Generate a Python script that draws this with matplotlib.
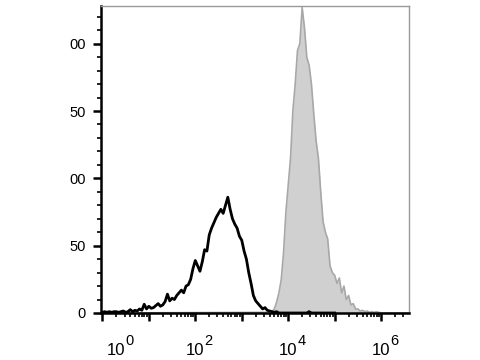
import matplotlib.pyplot as plt
import numpy as np
from matplotlib.ticker import LogLocator, MultipleLocator, NullFormatter, FixedLocator

plt.rcParams['font.family'] = ['Liberation Sans', 'DejaVu Sans']

# control (black line): log10 of channel value and event count
black_log = [0.0, 0.05, 0.1, 0.15, 0.2, 0.25, 0.3, 0.35, 0.4, 0.45,
             0.5, 0.55, 0.6, 0.65, 0.7, 0.75, 0.8, 0.85, 0.9, 0.95,
             1.0, 1.05, 1.1, 1.15, 1.2, 1.25, 1.3, 1.35, 1.4, 1.45,
             1.5, 1.55, 1.6, 1.65, 1.7, 1.75, 1.8, 1.85, 1.9, 1.95,
             2.0, 2.05, 2.1, 2.15, 2.2, 2.25, 2.3, 2.35, 2.4, 2.45,
             2.5, 2.55, 2.6, 2.65, 2.7, 2.75, 2.8, 2.85, 2.9, 2.95,
             3.0, 3.05, 3.1, 3.15, 3.2, 3.25, 3.3, 3.35, 3.4, 3.45,
             3.5, 3.55, 3.6, 3.65, 3.7, 3.75, 3.8, 4.4, 4.45, 4.5, 5.0]
black_count = [0.5, 1, 0.5, 1, 0.5, 1, 1, 0.5, 1, 1.5,
               0.5, 1, 2.5, 1, 2, 1.5, 3, 2, 6.5, 3,
               5, 3.5, 4, 5.5, 7, 5, 6, 8.5, 14, 9,
               11, 10, 13, 15, 17, 15, 20, 21, 25, 33,
               39, 35, 31, 38, 47, 46, 58, 63, 67, 71,
               74, 77, 74, 80, 86, 77, 70, 66, 63, 57,
               54, 46, 40, 30, 22, 13, 9, 7, 5, 3,
               4, 2, 1.5, 1, 0.5, 1, 0, 0, 1, 0, 0]

# stained sample (grey filled)
gray_log = [0.0, 3.5, 3.55, 3.6, 3.65, 3.7, 3.75, 3.8, 3.85, 3.9, 3.95,
            4.0, 4.05, 4.1, 4.15, 4.2, 4.25, 4.3, 4.35, 4.4, 4.45,
            4.5, 4.55, 4.6, 4.65, 4.7, 4.75, 4.8, 4.85, 4.9, 4.95,
            5.0, 5.05, 5.1, 5.15, 5.2, 5.25, 5.3, 5.35, 5.4, 5.45,
            5.5, 5.55, 5.6, 5.65, 5.7, 5.75, 5.8, 5.85, 5.9, 5.95, 6.0, 6.6]
gray_count = [0, 0.5, 0.5, 1.5, 1, 3, 8, 15, 25, 45, 75,
              95, 115, 150, 170, 195, 200, 227, 212, 190, 184,
              170, 148, 128, 115, 90, 68, 60, 55, 35, 30,
              28, 22, 26, 15, 20, 10, 13, 6, 7, 3,
              3, 1.5, 2, 1, 1.5, 0.5, 1, 0.5, 1, 0.5, 0, 0]

y_ticks = [0, 50, 100, 150, 200]
y_labels = ['0', '50', '00', '50', '00']
x_label_pows = [0, 2, 4, 6]

fig = plt.figure(figsize=(4.8, 3.6), dpi=100)
ax = fig.add_axes([101 / 480, 47 / 360, 308 / 480, 307 / 360])

gx = 10 ** np.array(gray_log)
ax.fill_between(gx, gray_count, 0, color='#d0d0d0', lw=0)
ax.plot(gx, gray_count, color='#a8a8a8', lw=1.2)
ax.plot(10 ** np.array(black_log), black_count, color='black', lw=2.0)

ax.set_xscale('log')
ax.set_xlim(10 ** -0.03, 10 ** 6.6)
ax.set_ylim(0, 228)

ax.xaxis.set_major_locator(FixedLocator([10.0 ** k for k in range(7)]))
ax.xaxis.set_minor_locator(LogLocator(base=10, subs=range(2, 10), numticks=20))
ax.xaxis.set_major_formatter(NullFormatter())
ax.xaxis.set_minor_formatter(NullFormatter())
ax.set_yticks(y_ticks)
ax.set_yticklabels(y_labels)
ax.yaxis.set_minor_locator(MultipleLocator(10))

ax.tick_params(axis='both', which='major', direction='out', length=6, width=1.8,
               color='black')
ax.tick_params(axis='both', which='minor', direction='out', length=3, width=1.2,
               color='black')
ax.tick_params(axis='y', which='major', labelsize=10.5, pad=5)

for side in ['left', 'bottom']:
    ax.spines[side].set_linewidth(1.8)
    ax.spines[side].set_color('black')
for side in ['top', 'right']:
    ax.spines[side].set_linewidth(1.0)
    ax.spines[side].set_color('#999999')

for p in x_label_pows:
    dx = 10 if p == 0 else 0
    ax.annotate('10', xy=(10.0 ** p, 0), xycoords=('data', 'axes fraction'),
                xytext=(dx, -30), textcoords='offset points',
                ha='center', va='baseline', fontsize=12, annotation_clip=False)
    ax.annotate(str(p), xy=(10.0 ** p, 0), xycoords=('data', 'axes fraction'),
                xytext=(dx + 6.5, -23), textcoords='offset points',
                ha='left', va='baseline', fontsize=10.5, annotation_clip=False)

fig.savefig('out.png', dpi=100)
